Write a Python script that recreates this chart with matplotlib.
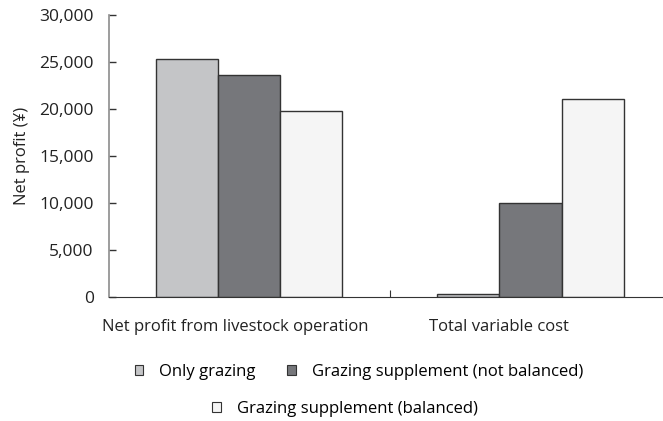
import matplotlib.pyplot as plt
import numpy as np
from matplotlib.patches import Patch
from matplotlib.transforms import blended_transform_factory

plt.rcParams['font.family'] = ['Open Sans', 'DejaVu Sans']

categories = ['Net profit from livestock operation', 'Total variable cost']
only_grazing = [25300, 300]
supp_not_balanced = [23650, 10050]
supp_balanced = [19800, 21100]
series_names = ['Only grazing', 'Grazing supplement (not balanced)',
                'Grazing supplement (balanced)']
yticks = [0, 5000, 10000, 15000, 20000, 25000, 30000]

colors = ['#c4c5c7', '#76777b', '#f5f5f5']
W, H = 663, 421

fig = plt.figure(figsize=(W / 100, H / 100), dpi=100)
ax = fig.add_axes([109 / W, 1 - 297 / H, (663 - 109) / W, (297 - 15) / H])

x = np.arange(len(categories))
bw = 0.22
for i, vals in enumerate([only_grazing, supp_not_balanced, supp_balanced]):
    ax.bar(x + (i - 1) * bw, vals, bw, color=colors[i], edgecolor='#333333',
           linewidth=1.0, label=series_names[i], zorder=2)

ax.set_xlim(-0.495, 1.47)
ax.set_ylim(0, 30000)
ax.set_yticks(yticks)
ax.set_yticklabels([f'{v:,}' for v in yticks], fontsize=12.5, color='#222222')
ax.set_xticks([0.5])
ax.set_xticklabels([''])
ax.tick_params(axis='x', direction='in', length=5, color='#333333')
ax.tick_params(axis='y', direction='in', length=5, width=1.0,
               color='#333333', pad=11)
for s in ['top', 'right']:
    ax.spines[s].set_visible(False)
ax.spines['left'].set_color('#8c8c8c')
ax.spines['left'].set_linewidth(1.2)
ax.spines['bottom'].set_color('#333333')
ax.set_ylabel('Net profit (¥)', fontsize=12, color='#222222', labelpad=7)

trans = blended_transform_factory(ax.transData, ax.transAxes)
label_x = [-0.046, 0.888]
for lx, cat in zip(label_x, categories):
    ax.text(lx, -0.105, cat, transform=trans, ha='center', va='center',
            fontsize=12, color='#222222')

handles = [Patch(facecolor=c, edgecolor='#333333', linewidth=0.8) for c in colors]
fig.legend(handles[:2], series_names[:2], ncol=2, loc='center',
           bbox_to_anchor=(359 / W, 1 - 372 / H), frameon=False,
           fontsize=12, handlelength=0.5, handleheight=0.5,
           columnspacing=1.9, handletextpad=0.95)
fig.legend(handles[2:], series_names[2:], loc='center',
           bbox_to_anchor=(345 / W, 1 - 409 / H), frameon=False,
           fontsize=12, handlelength=0.5, handleheight=0.5,
           handletextpad=0.95)

fig.savefig('out.png', dpi=100)
